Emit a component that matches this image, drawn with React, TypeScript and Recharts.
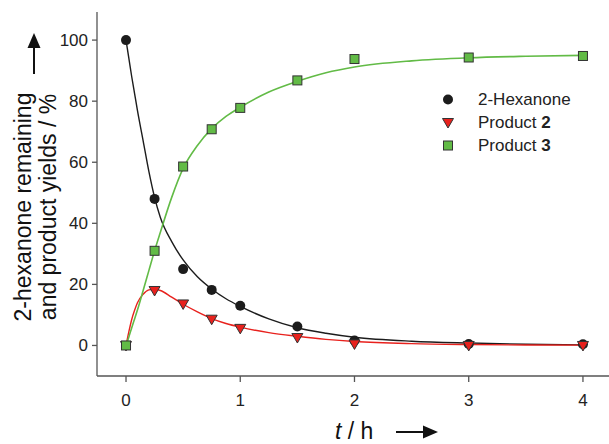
import { ComposedChart, Line, Scatter, XAxis, YAxis, Legend } from 'recharts';

const FONT = '"Liberation Sans", Arial, Helvetica, sans-serif';

// measured samples
const sampleTimes = [0, 0.25, 0.5, 0.75, 1, 1.5, 2, 3, 4];
const hexanone = [100, 48, 25, 18.2, 13, 6.2, 1.6, 0.5, 0.4];
const product2 = [0, 18, 13.6, 8.6, 5.6, 2.6, 0.5, 0, 0];
const product3 = [0, 31, 58.6, 70.8, 77.8, 86.8, 93.8, 94.3, 94.8];

// fitted curves
const fitTimes = [0, 0.025, 0.05, 0.075, 0.1, 0.15, 0.2, 0.25, 0.3, 0.4, 0.5, 0.625, 0.75, 0.875, 1, 1.25, 1.5, 1.75, 2, 2.5, 3, 3.5, 4];
const fitHexanone = [100, 94, 88, 82.5, 77, 67, 57, 48.5, 42, 34, 28, 22.5, 18.5, 15.3, 12.8, 8.7, 5.8, 4, 2.7, 1.4, 0.8, 0.4, 0.2];
const fitProduct2 = [0, 4.5, 8.5, 11.5, 14, 16.8, 18.2, 18.4, 18, 15.8, 13.5, 11, 8.8, 7.2, 6, 4.2, 3, 2, 1.3, 0.6, 0.3, 0.15, 0.1];
const fitProduct3 = [0, 2.8, 5.8, 8.7, 11.6, 18, 24.5, 31, 37, 48.5, 58, 65.5, 71, 75, 78, 83, 86.5, 89.3, 91.2, 93.2, 94.2, 94.7, 95];

const xTicks = [0, 1, 2, 3, 4];
const yTicks = [0, 20, 40, 60, 80, 100];

const legendItems = [
  { name: '2-Hexanone', bold: '', shape: 'circle' },
  { name: 'Product ', bold: '2', shape: 'triangle' },
  { name: 'Product ', bold: '3', shape: 'square' },
];

const fitData = fitTimes.map((t, i) => ({ t, hex: fitHexanone[i], p2: fitProduct2[i], p3: fitProduct3[i] }));
const hexPoints = sampleTimes.map((t, i) => ({ t, v: hexanone[i] }));
const p2Points = sampleTimes.map((t, i) => ({ t, v: product2[i] }));
const p3Points = sampleTimes.map((t, i) => ({ t, v: product3[i] }));

const BLACK = '#1c1c1c';
const RED = '#e8211d';
const GREEN = '#62bb46';
const EDGE = '#333';

function Dot({ cx, cy }: any) {
  return <circle cx={cx} cy={cy} r={5} fill={BLACK} />;
}

function Tri({ cx, cy }: any) {
  return <path d={`M${cx - 5.5},${cy - 4} L${cx + 5.5},${cy - 4} L${cx},${cy + 5.5} Z`} fill={RED} stroke={EDGE} strokeWidth={1} />;
}

function Sq({ cx, cy }: any) {
  return <rect x={cx - 4.5} y={cy - 4.5} width={9} height={9} fill={GREEN} stroke={EDGE} strokeWidth={1} />;
}

function LegendBox() {
  return (
    <div style={{ fontFamily: FONT, fontSize: 17, color: '#222' }}>
      {legendItems.map((it) => (
        <div key={it.name + it.bold} style={{ display: 'flex', alignItems: 'center', height: 23 }}>
          <svg width={20} height={23}>
            {it.shape === 'circle' && <Dot cx={10} cy={11.5} />}
            {it.shape === 'triangle' && <Tri cx={10} cy={11.5} />}
            {it.shape === 'square' && <Sq cx={10} cy={11.5} />}
          </svg>
          <span style={{ marginLeft: 20, whiteSpace: 'nowrap' }}>
            {it.name}
            {it.bold && <b>{it.bold}</b>}
          </span>
        </div>
      ))}
    </div>
  );
}

export default function App() {
  return (
    <div style={{ position: 'absolute', left: 0, top: 0, width: 609, height: 444, background: '#fff' }}>
      <ComposedChart width={609} height={444} data={fitData} margin={{ top: 12, right: 0, left: 0, bottom: 38 }}>
        <XAxis
          dataKey="t"
          type="number"
          domain={[-0.254, 4.228]}
          ticks={xTicks}
          allowDataOverflow
          height={30}
          tickSize={6}
          tickMargin={12}
          stroke="#555"
          strokeWidth={1.3}
          tick={{ fill: '#222', fontSize: 17, fontFamily: FONT }}
        />
        <YAxis
          type="number"
          domain={[-10, 109.2]}
          ticks={yTicks}
          allowDataOverflow
          width={97}
          tickSize={5}
          tickMargin={4}
          stroke="#555"
          strokeWidth={1.3}
          tick={{ fill: '#222', fontSize: 17, fontFamily: FONT }}
        />
        <Legend
          layout="vertical"
          align="center"
          verticalAlign="middle"
          wrapperStyle={{ left: 438, top: 88, width: 170 }}
          content={() => <LegendBox />}
        />
        <Line dataKey="hex" type="monotone" stroke={BLACK} strokeWidth={1.4} dot={false} isAnimationActive={false} legendType="none" />
        <Line dataKey="p2" type="monotone" stroke={RED} strokeWidth={1.4} dot={false} isAnimationActive={false} legendType="none" />
        <Line dataKey="p3" type="monotone" stroke={GREEN} strokeWidth={1.6} dot={false} isAnimationActive={false} legendType="none" />
        <Scatter data={hexPoints} dataKey="v" shape={Dot} isAnimationActive={false} />
        <Scatter data={p2Points} dataKey="v" shape={Tri} isAnimationActive={false} />
        <Scatter data={p3Points} dataKey="v" shape={Sq} isAnimationActive={false} />
      </ComposedChart>
      <svg width={609} height={444} style={{ position: 'absolute', left: 0, top: 0, pointerEvents: 'none' }}>
        <g fontFamily={FONT} fontSize={23} fill="#111">
          <text transform="translate(31,207) rotate(-90)" textAnchor="middle">2-hexanone remaining</text>
          <text transform="translate(56,207) rotate(-90)" textAnchor="middle">and product yields / %</text>
          <line x1={34} y1={74} x2={34} y2={46} stroke="#111" strokeWidth={2} />
          <path d="M27.5,48 L40.5,48 L34,33 Z" fill="#111" />
          <text x={335} y={439}>
            <tspan fontStyle="italic">t</tspan> / h
          </text>
          <line x1={396} y1={432} x2={425} y2={432} stroke="#111" strokeWidth={2} />
          <path d="M423,425.5 L423,438.5 L438,432 Z" fill="#111" />
        </g>
      </svg>
    </div>
  );
}
